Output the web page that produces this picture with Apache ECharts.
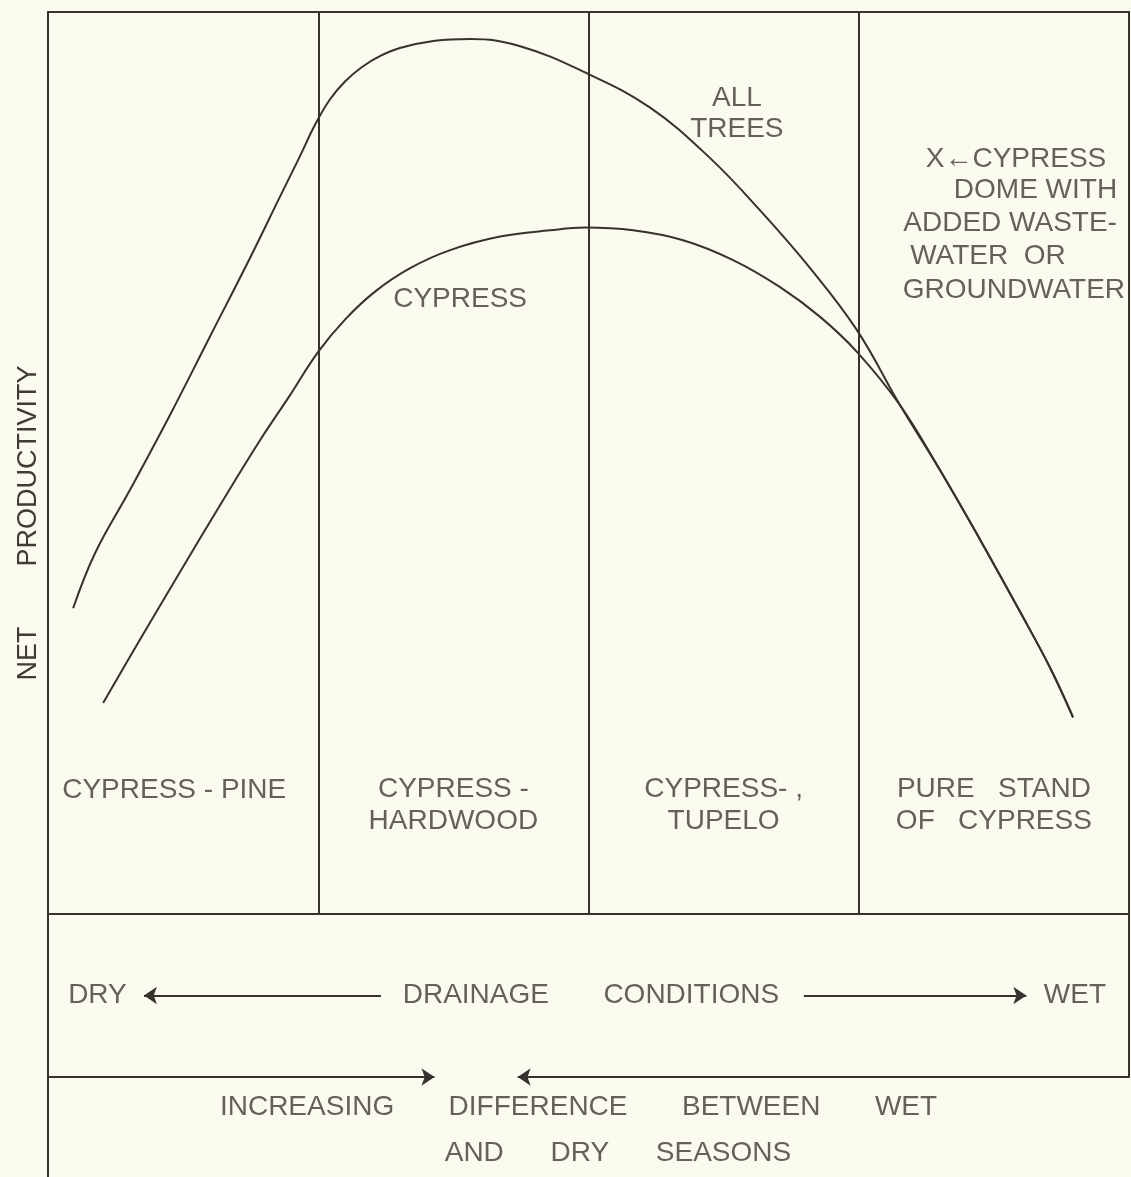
<!DOCTYPE html>
<html>
<head>
<meta charset="utf-8">
<title>Net productivity of cypress swamps</title>
<script src="https://cdn.jsdelivr.net/npm/echarts@6/dist/echarts.min.js"></script>
<style>
  html, body { margin: 0; padding: 0; background: #fbfaef; }
  #main { width: 1131px; height: 1177px; }
</style>
</head>
<body>
<div id="main"></div>
<script>
// drainage zones, dry -> wet (one unit of the x axis each)
var zoneNames = ['CYPRESS - PINE', 'CYPRESS -\nHARDWOOD', 'CYPRESS- ,\nTUPELO', 'PURE   STAND\nOF   CYPRESS'];

// net productivity (relative units) along the drainage gradient
var allTrees = [
  [0.093, 33.9], [0.174, 40.0], [0.303, 47.0], [0.451, 55.3], [0.599, 64.0],
  [0.747, 72.7], [0.858, 79.5], [0.932, 84.0], [0.988, 87.5], [1.043, 90.3],
  [1.099, 92.3], [1.162, 93.9], [1.228, 95.1], [1.302, 96.0], [1.432, 96.8],
  [1.562, 97.0], [1.747, 96.2], [1.987, 93.3], [2.228, 89.4], [2.450, 83.8],
  [2.635, 78.0], [2.820, 71.6], [2.994, 64.7], [3.153, 56.4], [3.301, 49.2],
  [3.449, 41.5], [3.597, 33.5], [3.708, 27.3], [3.793, 21.8]
];
var cypress = [
  [0.204, 23.4], [0.340, 30.4], [0.488, 37.9], [0.636, 45.3], [0.784, 52.5],
  [0.895, 57.5], [0.999, 62.3], [1.099, 65.9], [1.210, 69.0], [1.340, 71.6],
  [1.488, 73.6], [1.673, 75.1], [1.858, 75.8], [1.987, 76.1], [2.165, 75.8],
  [2.350, 74.7], [2.535, 72.5], [2.709, 69.5], [2.857, 66.2], [2.994, 62.3],
  [3.153, 56.4], [3.301, 49.2], [3.449, 41.5], [3.597, 33.5], [3.708, 27.3],
  [3.793, 21.8]
];

var curveNames = ['ALL\nTREES', 'CYPRESS'];
var noteLines = ['X\u2190CYPRESS', 'DOME WITH', 'ADDED WASTE-', 'WATER  OR', 'GROUNDWATER'];
var yAxisTitle = 'NET        PRODUCTIVITY';
var drainageText = ['DRY', 'DRAINAGE       CONDITIONS', 'WET'];
var seasonText = ['INCREASING       DIFFERENCE       BETWEEN       WET', 'AND      DRY      SEASONS'];

var ink = '#36322d';
var textInk = '#403b35';
var font = 'Liberation Sans';

var myChart = echarts.init(document.getElementById('main'));

function txt(name, x, y, extra) {
  return { name: name, value: [x, y], label: extra || {} };
}

var hiddenAxis = { show: false };
var frameAxis = {
  axisLine: { show: true, onZero: false, lineStyle: { color: ink, width: 2 } },
  axisTick: { show: false },
  axisLabel: { show: false },
  splitLine: { show: false }
};

var labelSeries = {
  type: 'scatter',
  silent: true,
  symbolSize: 1,
  itemStyle: { color: 'transparent' },
  label: {
    show: true,
    position: 'inside',
    formatter: '{b}',
    color: textInk,
    fontFamily: font,
    fontSize: 28,
    lineHeight: 32
  }
};

var option = {
  backgroundColor: '#fbfaef',
  animation: false,
  grid: [
    { left: 48, right: 2, top: 12, height: 902, show: true, borderColor: ink, borderWidth: 2 },
    { left: 48, right: 2, top: 914, height: 163 },
    { left: 48, right: 2, top: 1077, height: 100 }
  ],
  xAxis: [
    {
      gridIndex: 0, type: 'value', min: 0, max: 4, interval: 1,
      axisLine: { show: false }, axisTick: { show: false }, axisLabel: { show: false },
      splitLine: { show: true, lineStyle: { color: ink, width: 2 } }
    },
    Object.assign({ gridIndex: 1, type: 'value', min: 0, max: 4 }, hiddenAxis),
    Object.assign({ gridIndex: 2, type: 'value', min: 0, max: 4 }, hiddenAxis)
  ],
  yAxis: [
    Object.assign({ gridIndex: 0, type: 'value', min: 0, max: 100 }, hiddenAxis),
    Object.assign({ gridIndex: 1, type: 'value', min: 0, max: 2, position: 'left' }, frameAxis),
    Object.assign({ gridIndex: 1, type: 'value', min: 0, max: 2, position: 'right' }, frameAxis),
    Object.assign({ gridIndex: 2, type: 'value', min: 0, max: 2, position: 'left' }, frameAxis)
  ],
  graphic: [
    {
      type: 'text', x: 29, y: 523, rotation: Math.PI / 2, silent: true,
      style: {
        text: yAxisTitle, fill: textInk, fontFamily: font, fontSize: 27,
        align: 'center', verticalAlign: 'middle'
      }
    }
  ],
  series: [
    {
      name: 'All trees', type: 'line', xAxisIndex: 0, yAxisIndex: 0,
      data: allTrees, smooth: 0.4, symbol: 'none', silent: true,
      lineStyle: { color: ink, width: 2 }
    },
    {
      name: 'Cypress', type: 'line', xAxisIndex: 0, yAxisIndex: 0,
      data: cypress, smooth: 0.4, symbol: 'none', silent: true,
      lineStyle: { color: ink, width: 2 }
    },
    Object.assign({}, labelSeries, {
      name: 'notes', xAxisIndex: 0, yAxisIndex: 0,
      data: zoneNames.map(function (z, i) {
        var twoLines = z.indexOf('\n') > -1;
        return txt(z, i === 0 ? 0.467 : i + 0.5, twoLines ? 12.0 : 13.7);
      }).concat([
        txt(curveNames[0], 2.549, 88.7, { lineHeight: 31 }),
        txt(curveNames[1], 1.525, 68.1),
        txt(noteLines[0], 3.582, 83.7),
        txt(noteLines[1], 3.654, 80.2),
        txt(noteLines[2], 3.560, 76.6),
        txt(noteLines[3], 3.478, 72.9),
        txt(noteLines[4], 3.574, 69.1)
      ])
    }),
    Object.assign({}, labelSeries, {
      name: 'drainage', xAxisIndex: 1, yAxisIndex: 1,
      data: [
        txt(drainageText[0], 0.183, 1),
        txt(drainageText[1], 2.009, 1),
        txt(drainageText[2], 3.800, 1)
      ],
      markLine: {
        silent: true,
        symbol: ['none', 'arrow'],
        symbolSize: 13,
        label: { show: false },
        lineStyle: { color: ink, width: 2, type: 'solid' },
        data: [
          [{ coord: [1.232, 1] }, { coord: [0.355, 1] }],
          [{ coord: [2.797, 1] }, { coord: [3.620, 1] }],
          [{ coord: [0, 0] }, { coord: [1.430, 0] }],
          [{ coord: [4, 0] }, { coord: [1.738, 0] }]
        ]
      }
    }),
    Object.assign({}, labelSeries, {
      name: 'seasons', xAxisIndex: 2, yAxisIndex: 3,
      data: [
        txt(seasonText[0], 1.963, 1.4),
        txt(seasonText[1], 2.109, 0.48)
      ]
    })
  ]
};

myChart.setOption(option);
</script>
</body>
</html>
